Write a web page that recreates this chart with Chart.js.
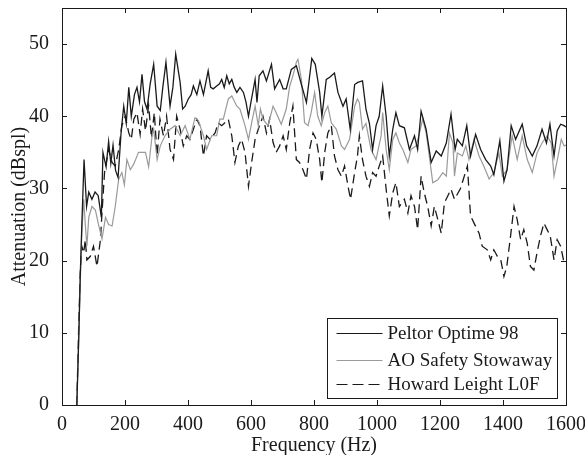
<!DOCTYPE html>
<html>
<head>
<meta charset="utf-8">
<script src="https://cdn.jsdelivr.net/npm/chart.js@4.4.1/dist/chart.umd.min.js"></script>
<style>
  html, body { margin: 0; padding: 0; background: #fff; }
  #wrap { width: 585px; height: 455px; }
</style>
</head>
<body>
<div id="wrap"><canvas id="chart" width="585" height="455"></canvas></div>
<script>
const seriesNames = ["Peltor Optime 98", "AO Safety Stowaway", "Howard Leight L0F"];

const peltorFreq = [47,53,58,63,70,78,85,95,105,115,125,130,140,148,155,162,170,178,188,196,204,212,220,230,238,246,254,262,270,280,291,302,312,320,330,343,352,361,375,383,391,401,410,417,428,438,449,464,472,480,491,500,507,515,523,531,539,547,555,565,576,584,592,600,613,619,626,638,649,665,675,691,702,712,728,744,760,776,793,804,818,825,839,850,865,876,892,902,915,929,939,954,965,976,986,997,1007,1018,1029,1039,1050,1060,1071,1087,1103,1119,1129,1140,1156,1172,1188,1204,1220,1235,1248,1255,1271,1285,1297,1313,1329,1345,1361,1371,1390,1403,1413,1426,1440,1461,1475,1493,1508,1524,1538,1549,1562,1572,1583,1594,1600];
const peltorDb = [0,9,18,25,34,27.5,29.5,28.5,29.5,29,26,35,33,36.5,33.5,36,32.5,31.5,38,41.4,39,44,40,43,44,42,45.8,42,41,44.5,47.2,41.4,40.8,44,47.5,41.4,44,48.6,44.7,41,41.4,42.4,43,44.2,43,44.9,43,46.3,44,43.8,44.2,44.5,45.1,44,45.6,44.5,45.1,44,43.3,44,43.3,42,40,42,45.1,41.9,45.6,46.3,44.9,47.2,43.8,45.1,43.8,43.8,46.5,47,44.4,41.9,48,47.2,43.3,40,45.1,45.4,46,43.3,41.4,42.4,38.2,44.4,44.7,44.9,41,39,35.4,38.7,40,44.2,40,34.5,38.2,40.5,38.7,38.4,35.4,37.3,35.4,40.7,38.2,33.6,35.2,34.5,36.3,40.3,35.4,36.8,35.9,38.7,34.5,37.5,35.4,34,33.1,31.9,36.6,31,32.6,38.7,36.8,38.9,35.9,34.5,35.9,38.2,36.3,38.9,34.5,38,38.9,38.7,38.5];

const aoFreq = [47,53,58,63,69,74,79,85,95,106,116,127,138,148,159,169,180,190,198,206,217,228,243,254,265,275,286,291,302,312,327,343,359,375,391,406,422,433,449,459,475,491,501,512,528,539,555,565,581,592,602,613,623,630,638,654,670,680,696,712,723,733,744,749,760,770,781,791,802,812,823,834,844,855,871,887,897,913,929,938,944,954,965,981,997,1013,1018,1029,1039,1050,1060,1071,1082,1098,1108,1124,1135,1145,1156,1166,1177,1193,1209,1220,1230,1241,1246,1255,1271,1282,1292,1308,1324,1340,1356,1371,1387,1398,1413,1429,1445,1461,1477,1493,1508,1524,1540,1553,1562,1575,1585,1594,1600];
const aoDb = [0,9,17,24,28.5,25,22,26,27.5,27,25,23,26,25,24.8,27.5,31.3,32.2,30.5,34,32.6,33.4,35,35,35,33,37.3,38.2,34,35.9,37.3,38.2,38.7,37.3,38.7,36.8,39.8,39.4,37.3,35.4,37.3,37.3,39.6,39.6,42.4,42.8,41.4,41,38.7,36.8,39.1,41.4,38.7,41,39.6,38.7,41.4,40.5,38.9,41,44.2,45.6,47.5,47.9,45.1,39.1,38.7,40.5,43.3,40,38.7,40.5,41.4,39.1,38.2,35.9,35.4,36.8,41.4,42.4,41.9,38.2,39,35.4,34,37.3,40.5,35.4,32.6,36.8,37.7,36.3,35.4,33.6,35.4,35.9,37.7,39.6,37.7,34.5,30.8,31.2,32.2,31.7,37.7,36.3,31.7,34.9,34.5,35.9,34,36.8,34.5,33,31.3,32.2,34.9,31.7,32.6,37.3,34,37.3,34,32.2,34.9,36.3,37.3,36.3,31.7,34.5,36.8,35.9,36];

const howardFreq = [47,53,58,63,69,74,79,90,100,111,122,127,135,148,159,169,180,190,201,212,220,228,238,248,256,265,275,284,293,302,311,322,332,343,354,364,375,385,396,406,417,428,438,449,459,470,486,496,507,517,528,539,549,560,570,581,592,602,613,623,638,649,659,670,680,691,702,712,723,733,744,754,765,776,786,797,807,818,825,834,844,855,865,876,887,897,908,916,929,938,944,954,965,976,986,997,1007,1018,1029,1039,1050,1060,1071,1087,1098,1108,1119,1129,1140,1150,1161,1172,1182,1193,1204,1214,1225,1235,1246,1265,1287,1297,1308,1324,1334,1350,1361,1371,1382,1393,1403,1412,1424,1435,1445,1456,1466,1477,1487,1498,1508,1519,1530,1540,1550,1562,1572,1583,1592,1600];
const howardDb = [0,10.9,18.3,22,21.1,22.9,20.1,20.6,22,19.2,22.9,26.6,32.2,35.4,33.6,33.1,35.4,38.7,40,37.7,36.8,39.6,40.5,37.5,41,38,41.5,37,40.5,34.5,39.6,37.3,40,35.4,34,40,38.2,35.9,37.3,36.8,38.2,39.6,38.7,34.5,37.3,36.8,37.7,39.1,38.7,39.1,39.6,37.3,33.6,35.9,36.8,35,30.3,33.6,36.8,38.2,40,37.7,39.6,36.4,35,35.9,37.3,35.4,39.1,41.4,34,33.6,32.6,31.3,35.4,37.7,36.8,34,30.8,35,37.7,38.7,34.5,32.6,31.7,33.1,30.3,28.5,32.2,34.5,37.3,34,31.7,30.3,32.2,31.7,33.1,34.5,29.9,26.2,29.4,30.8,27.5,28.5,26.6,29,27.5,24.3,31.7,29.4,27.5,24.8,27.5,25.7,23.8,28,29,29.9,28.5,30,33.1,26.2,25.2,23.8,22,21.5,20.1,21.5,20.6,20.1,17.8,19.2,23.4,27.5,25.7,22.9,24.3,22.4,19.2,18.7,21.1,23.4,25.2,24.3,23.4,20.1,22.9,22,20.1,20];

const xTicks = [0, 200, 400, 600, 800, 1000, 1200, 1400, 1600];
const yTicks = [0, 10, 20, 30, 40, 50];

const FONT = "'Liberation Serif', 'Times New Roman', serif";
const FSIZE = 20;
const INK = "#1a1a1a";
const GRAY = "#9a9a9a";
const DASH = [9, 5];

function pairs(xs, ys) {
  return xs.map((x, i) => ({ x: x, y: ys[i] }));
}

// MATLAB-ish frame with inward ticks, plus legend box
const framePlugin = {
  id: "frame",
  afterDatasetsDraw(chart) {
    const ctx = chart.ctx;
    const a = chart.chartArea;
    const xs = chart.scales.x, ys = chart.scales.y;
    const len = 5;
    ctx.save();
    ctx.strokeStyle = INK;
    ctx.lineWidth = 1;
    ctx.setLineDash([]);
    ctx.beginPath();
    xTicks.forEach(v => {
      const px = Math.round(xs.getPixelForValue(v)) + 0.5;
      ctx.moveTo(px, a.bottom); ctx.lineTo(px, a.bottom - len);
      ctx.moveTo(px, a.top); ctx.lineTo(px, a.top + len);
    });
    yTicks.forEach(v => {
      const py = Math.round(ys.getPixelForValue(v)) + 0.5;
      ctx.moveTo(a.left, py); ctx.lineTo(a.left + len, py);
      ctx.moveTo(a.right, py); ctx.lineTo(a.right - len, py);
    });
    ctx.stroke();
    ctx.strokeRect(Math.round(a.left) + 0.5, Math.round(a.top) + 0.5,
                   Math.round(a.right - a.left), Math.round(a.bottom - a.top));

    // legend
    const w = 230, h = 80;
    const bx = Math.round(a.right - 9 - w) + 0.5;
    const by = Math.round(a.bottom - 7 - h) + 0.5;
    ctx.fillStyle = "#fff";
    ctx.fillRect(bx, by, w, h);
    ctx.strokeRect(bx, by, w, h);
    const rows = [15, 42, 66];
    const styles = [
      { color: INK, dash: [] },
      { color: GRAY, dash: [] },
      { color: INK, dash: [11, 5] }
    ];
    ctx.font = "19px " + FONT;
    ctx.textBaseline = "middle";
    ctx.textAlign = "left";
    seriesNames.forEach((name, i) => {
      const y = by + rows[i];
      ctx.strokeStyle = styles[i].color;
      ctx.setLineDash(styles[i].dash);
      ctx.lineWidth = 1.2;
      ctx.beginPath();
      ctx.moveTo(bx + 9, y); ctx.lineTo(bx + 55, y);
      ctx.stroke();
      ctx.fillStyle = INK;
      ctx.fillText(name, bx + 60, y + 1);
    });
    ctx.restore();
  }
};

const ctx = document.getElementById("chart").getContext("2d");

new Chart(ctx, {
  type: "line",
  data: {
    datasets: [
      { label: seriesNames[0], data: pairs(peltorFreq, peltorDb), borderColor: INK, borderWidth: 1.3 },
      { label: seriesNames[1], data: pairs(aoFreq, aoDb), borderColor: GRAY, borderWidth: 1.2 },
      { label: seriesNames[2], data: pairs(howardFreq, howardDb), borderColor: INK, borderWidth: 1.3, borderDash: DASH }
    ]
  },
  options: {
    responsive: false,
    animation: false,
    events: [],
    layout: { padding: { top: 8, right: 19, left: 0, bottom: 0 } },
    elements: { point: { radius: 0 }, line: { tension: 0, fill: false } },
    plugins: { legend: { display: false }, tooltip: { enabled: false } },
    scales: {
      x: {
        type: "linear",
        min: 0, max: 1600,
        afterBuildTicks: s => { s.ticks = xTicks.map(v => ({ value: v })); },
        afterFit: s => { s.height = 50; s.paddingLeft = 0; s.paddingRight = 0; },
        grid: { display: false },
        border: { display: false },
        ticks: { padding: 0, color: INK, font: { family: FONT, size: FSIZE }, maxRotation: 0, autoSkip: false,
                 callback: v => String(v) },
        title: { display: true, text: "Frequency (Hz)", color: INK, font: { family: FONT, size: FSIZE }, padding: { top: 0, bottom: -3 } }
      },
      y: {
        type: "linear",
        min: 0, max: 55,
        afterBuildTicks: s => { s.ticks = yTicks.map(v => ({ value: v })); },
        afterFit: s => { s.width = 62; s.paddingTop = 0; s.paddingBottom = 0; },
        grid: { display: false },
        border: { display: false },
        ticks: { padding: 5, color: INK, font: { family: FONT, size: FSIZE }, callback: v => String(v) },
        title: { display: true, text: "Attenuation (dBspl)", color: INK, font: { family: FONT, size: FSIZE }, padding: { top: 8, bottom: 0 } }
      }
    }
  },
  plugins: [framePlugin]
});
</script>
</body>
</html>
